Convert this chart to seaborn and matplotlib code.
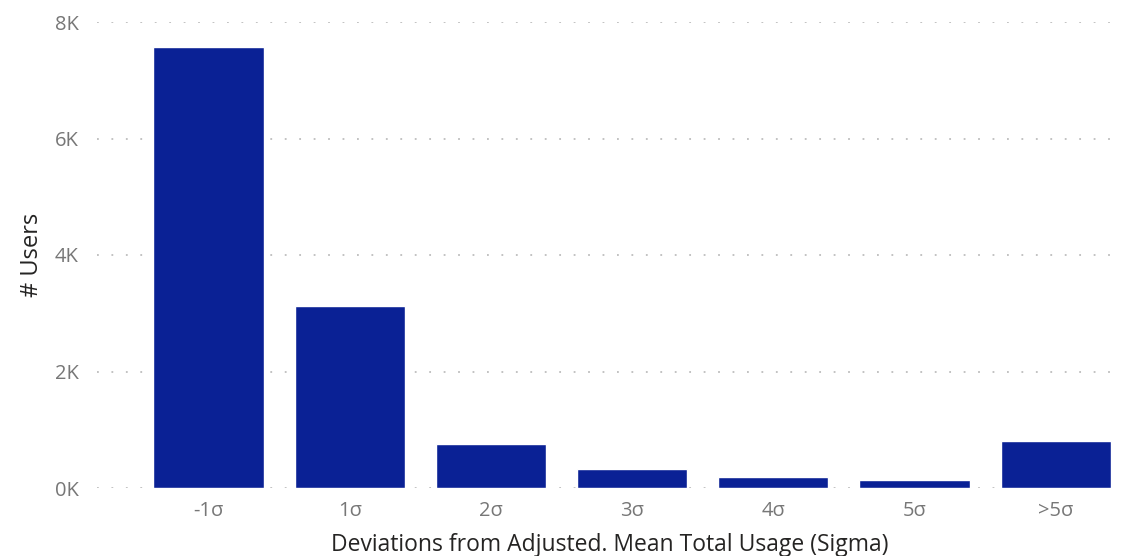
import matplotlib
matplotlib.use('Agg')
import matplotlib.pyplot as plt
import seaborn as sns
import pandas as pd
from matplotlib.ticker import FuncFormatter, MultipleLocator

# values
categories = ["-1σ", "1σ", "2σ", "3σ", "4σ", "5σ", ">5σ"]
users = [7570, 3125, 755, 322, 194, 132, 812]

df = pd.DataFrame({"Deviation": categories, "Users": users})

sns.set_theme(style="white")
plt.rcParams['font.family'] = ['Open Sans', 'DejaVu Sans']

fig = plt.figure(figsize=(11.27, 5.56), dpi=100)
ax = fig.add_axes([97 / 1127, 68 / 556, (1122 - 97) / 1127, (488 - 22) / 556])

sns.barplot(data=df, x="Deviation", y="Users", order=categories,
            color="#0A2195", saturation=1, width=0.78, ax=ax, zorder=3)

ax.set_xlim(-0.79, 6.47)
ax.set_ylim(0, 8000)
ax.yaxis.set_major_locator(MultipleLocator(2000))
ax.yaxis.set_major_formatter(FuncFormatter(lambda v, p: f"{v / 1000:.0f}K"))

ax.grid(False)
for t in ax.get_yticks():
    ax.axhline(t, color="#BDBDBD", linestyle=(0, (1, 7)), linewidth=1.3, zorder=1)

for s in ax.spines.values():
    s.set_visible(False)

ax.tick_params(axis="both", length=0, labelsize=14.5, labelcolor="#777777")
ax.tick_params(axis="y", pad=13)
ax.tick_params(axis="x", pad=9)
for lbl in ax.get_yticklabels():
    lbl.set_clip_on(False)

ax.set_xlabel("Deviations from Adjusted. Mean Total Usage (Sigma)", fontsize=16.5,
              color="#252423", labelpad=9)
ax.set_ylabel("# Users", fontsize=17, color="#252423", labelpad=8)

fig.savefig("out.png", dpi=100, facecolor="white")
